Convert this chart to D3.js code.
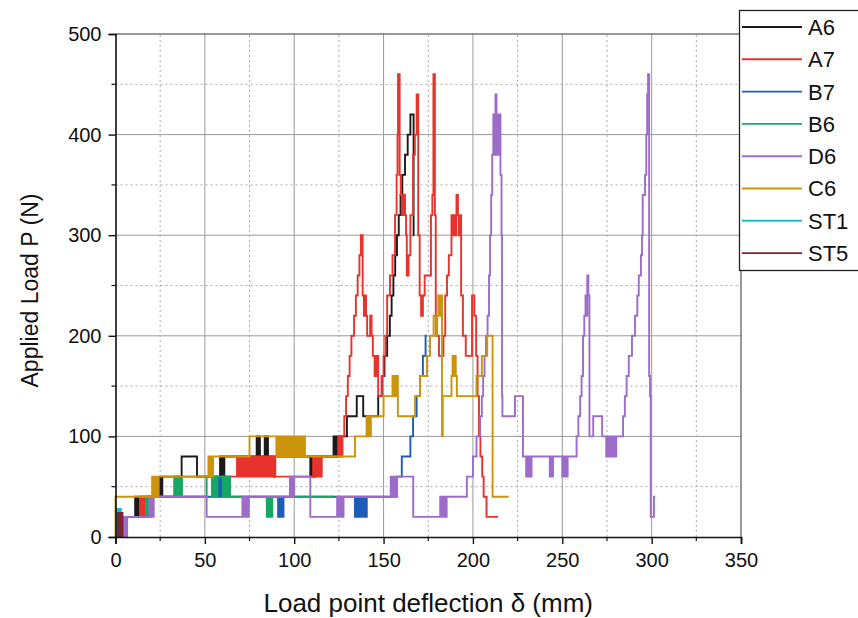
<!DOCTYPE html>
<html><head><meta charset="utf-8">
<script src="https://cdn.jsdelivr.net/npm/d3@7"></script>
<style>
body{margin:0;background:#fff}
svg{display:block}
text{font-family:Arial,"Liberation Sans",sans-serif;fill:#111}
</style>
</head><body>
<svg id="chart" width="858" height="618"></svg>
<script>
// ---------- data ----------
const seriesNames  = ["A6","A7","B7","B6","D6","C6","ST1","ST5"];
const seriesColors = ["#1a1a1a","#e8322c","#1f5cb8","#16a862","#9d6cc9","#cc930c","#1cbfc2","#7a2434"];
const xTickValues = [0,50,100,150,200,250,300,350];
const yTickValues = [0,100,200,300,400,500];
const xLabel = "Load point deflection δ (mm)";
const yLabel = "Applied Load P (N)";

// [deflection mm, load N] step data
const A6 = [
[0,0],[0.6,20],[11,40],[11.6,20],[12.2,40],[12.8,20],[13.2,40],
[25,60],[25.6,40],[26.2,60],
[37,80],[45.6,60],
[58.5,80],[59.1,60],[59.7,80],[60.3,60],[60.9,80],
[79,100],[79.6,80],[80.2,100],[80.8,80],
[83.5,100],[84.1,80],[84.7,100],[85.3,80],
[88.6,60],[89.2,80],
[109,60],[109.6,80],[110.2,60],[110.8,80],[111.4,60],[112,80],
[122,100],[122.6,80],[123.2,100],[123.8,80],[124.4,100],
[129.5,120],[135,140],[138.6,120],[147,140],[149,160],[150.5,180],[152,200],[153.5,220],[154.5,240],[155.5,260],[156.5,280],[157.5,300],[158.5,320],[159.5,340],[160.5,360],[162,380],[163.5,400],[165,420],[166.8,300],[167.2,300]
];
const A7 = [
[0,0],[0.8,20],[13.7,40],[14.3,20],[14.9,40],[15.5,20],[16.1,40],
[33,60],[33.6,40],[34.2,60],[34.8,40],[35.4,60],
[68,80],[68.8,60],[69.6,80],[70.4,60],[71.2,80],[72,60],[72.8,80],[73.6,60],[74.4,80],[75.2,60],[76,80],[76.8,60],[77.6,80],[78.4,60],
[79.2,80],[80,60],[80.8,80],[81.6,60],[82.4,80],[83.2,60],[84,80],[84.8,60],[85.6,80],[86.4,60],[87.2,80],[88,60],[88.8,80],[89.4,60],
[110.6,80],[111.4,60],[112.2,80],[113,60],[113.8,80],[114.6,60],[115.4,80],
[124.6,100],[125.2,80],[125.8,100],[126.4,80],[127,100],
[128,120],[129,140],[130,160],[131,180],[132,200],[133.5,220],[134.5,240],[135.5,260],[136.5,280],[137.3,300],[138.3,240],[139,220],[139.6,240],[140.2,220],[140.8,200],[142.5,220],[143.3,200],[144,180],[145,160],[146,180],[147,140],[149,160],[150,180],[151,200],[152,240],[153.6,260],[155,280],[156.4,320],[157.3,360],[157.8,400],[158.1,460],[159,360],[159.6,340],[160.2,320],[161,340],[162,320],[162.6,300],[163,260],[164,280],[165,320],[166.5,380],[167.5,400],[168.5,440],[169.4,300],[170.2,240],[171,220],[172,240],[173,260],[176.5,320],[177.3,340],[177.9,460],[178.7,320],[179.2,200],[181,180],[183.5,200],[184.5,240],[185.5,260],[186.5,280],[188,320],[189,300],[189.6,320],[190.2,300],[190.8,340],[191.6,320],[192.2,300],[192.8,320],[193.4,240],[194.4,200],[196,180],[199.5,240],[200.8,220],[201.8,180],[202.6,140],[203.4,100],[204.2,80],[205.2,60],[206,40],[207.6,20],[214,20]
];
const B7 = [
[0,0],[1,20],[18,40],
[57,60],[57.6,40],[58.2,60],[58.8,40],[59.4,60],[60,40],[60.6,60],[61.2,40],[61.8,60],[62.4,40],[63,60],[64,40],
[91,20],[91.6,40],[92.2,20],[92.8,40],[93.4,20],[94,40],
[134,20],[134.6,40],[135.2,20],[135.8,40],[136.4,20],[137,40],[137.6,20],[138.2,40],[138.8,20],[139.4,40],[140,20],[140.6,40],
[157.5,60],[160.2,80],[165,100],[166.5,120],[168.5,140],[170.4,160],[172,180],[173.5,200],[174.2,200]
];
const B6 = [
[0,0],[1.5,20],[17,40],[17.6,20],[18.2,40],[18.8,20],[19.4,40],
[33,60],[33.6,40],[34.2,60],[34.8,40],[35.4,60],[36,40],[36.6,60],[37.2,40],
[51,60],[54,40],[54.6,60],[55.2,40],[55.8,60],[56.4,40],[57,60],
[60,40],[60.6,60],[61.2,40],[61.8,60],[62.4,40],[63,60],[64,40],
[84.7,20],[85.3,40],[85.9,20],[86.5,40],[87.1,20],[87.7,40],
[122.5,40]
];
const D6 = [
[0,0],[2.5,20],[3,0],[3.5,20],[4,0],[4.5,20],[5,0],[5.5,20],[6,0],[6.5,20],
[19,40],[19.6,20],[20.2,40],[20.8,20],[21.4,40],
[51,20],
[71,40],[71.6,20],[72.2,40],[72.8,20],[73.4,40],[74,20],[74.6,40],
[97.6,60],[98.2,40],[98.8,60],[99.4,40],[100,60],
[109,20],
[124,40],[124.6,20],[125.2,40],[125.8,20],[126.4,40],[127,20],[127.6,40],
[154,60],[154.6,40],[155.2,60],[155.8,40],[156.4,60],[157,40],[157.6,60],
[166.6,20],
[181.7,40],[182.3,20],[182.9,40],[183.5,20],[184.1,40],[184.7,20],[185.3,40],
[196.6,60],[200,80],[202,100],[204,120],[205,140],[205.7,160],[206.5,180],[207.3,200],[208.2,220],[209,260],[209.6,300],[210.2,340],[210.8,380],[211.4,420],[212,380],[212.6,440],[213.2,380],[213.8,420],[214.4,380],[215,420],[215.4,360],[216,300],[216.3,140],[216.5,120],
[223.5,140],[228,80],[229.8,60],[230.4,80],[231,60],[231.6,80],[232.2,60],[232.8,80],
[243,60],[243.6,80],[244.2,60],[244.8,80],
[250,60],[250.6,80],[251.2,60],[251.8,80],[252.4,60],[253,80],
[258,100],[259,120],[260,140],[260.8,160],[261.6,200],[262.3,220],[263,240],[263.6,220],[264,260],[264.6,240],[265.2,100],[267.3,120],[272.3,100],
[274.6,80],[275.2,100],[275.8,80],[276.4,100],[277,80],[277.6,100],[278.4,80],[279,100],[279.6,80],[280.2,100],
[284,120],[285,140],[286,160],[287.2,180],[289,200],[290.7,220],[292,240],[292.8,260],[294,280],[294.6,300],[295,340],[296.3,360],[297,400],[297.5,440],[298,460],[298.6,160],[299.1,140],[299.5,20],[301.3,40],[302,40]
];
const C6 = [
[0,0],[0,40],[20.5,60],[21.1,40],[21.7,60],[22.3,40],[22.9,60],[23.5,40],[24,60],
[52,80],[52.6,60],[53.2,80],[53.8,60],[54.6,80],
[75,100],
[90,80],[91,100],[92,80],[93,100],[94,80],[95,100],[96,80],[97,100],[98,80],[99,100],[100,80],[101,100],[102,80],[103,100],[104,80],[105,100],[106,80],
[134,100],[140.5,120],[141.1,100],[141.7,120],[142.3,100],[142.9,120],
[150,140],[155,160],[155.6,140],[156.2,160],[156.8,140],[157.4,160],[158,120],
[167.6,140],[170.4,160],[174.3,180],[176,200],[178,220],[179.4,200],[180,220],[180.6,240],[181.2,220],[181.8,240],[182.7,100],[183.1,140],
[188,160],[188.6,180],[189.2,160],[189.8,180],[190.4,160],[191,140],
[202,160],[205,180],[208,200],[211,40],[220,40]
];
const ST1 = [[0,0],[0.3,28],[0.9,20],[1.4,28],[2,20],[2.5,28],[3,20],[3.6,0],[3.8,0]];
const ST5 = [[0,0],[1.4,24],[1.9,0],[2.4,24],[2.9,0],[3.4,24],[3.9,0],[4.2,0]];

const seriesData = [A6,A7,B7,B6,D6,C6,ST1,ST5];

// ---------- drawing ----------
const svg = d3.select("#chart");
const x = d3.scaleLinear().domain([0,350]).range([115.5,741]);
const y = d3.scaleLinear().domain([0,500]).range([537,34]);

// grid
const g = svg.append("g");
const xMinor = d3.range(25,350,50), yMinor = d3.range(50,500,100);
g.selectAll(".gxm").data(xTickValues.filter(v=>v>0&&v<350)).join("line")
 .attr("x1",d=>x(d)).attr("x2",d=>x(d)).attr("y1",y(0)).attr("y2",y(500))
 .attr("stroke","#9a9a9a").attr("stroke-width",1);
g.selectAll(".gym").data(yTickValues.filter(v=>v>0&&v<500)).join("line")
 .attr("y1",d=>y(d)).attr("y2",d=>y(d)).attr("x1",x(0)).attr("x2",x(350))
 .attr("stroke","#9a9a9a").attr("stroke-width",1);
g.selectAll(".gxn").data(xMinor).join("line")
 .attr("x1",d=>x(d)).attr("x2",d=>x(d)).attr("y1",y(0)).attr("y2",y(500))
 .attr("stroke","#a8a8a8").attr("stroke-width",1).attr("stroke-dasharray","2,3");
g.selectAll(".gyn").data(yMinor).join("line")
 .attr("y1",d=>y(d)).attr("y2",d=>y(d)).attr("x1",x(0)).attr("x2",x(350))
 .attr("stroke","#a8a8a8").attr("stroke-width",1).attr("stroke-dasharray","2,3");

// frame top/right
svg.append("line").attr("x1",x(0)).attr("x2",x(350)).attr("y1",y(500)).attr("y2",y(500)).attr("stroke","#333");
svg.append("line").attr("x1",x(350)).attr("x2",x(350)).attr("y1",y(500)).attr("y2",y(0)).attr("stroke","#333");

// series
svg.append("clipPath").attr("id","clip").append("rect")
 .attr("x",x(0)-2).attr("y",y(500)).attr("width",x(350)-x(0)+2).attr("height",y(0)-y(500)+1);
const line = d3.line().x(d=>x(d[0])).y(d=>y(d[1])).curve(d3.curveStepAfter);
const sg = svg.append("g").attr("clip-path","url(#clip)");
seriesData.forEach((s,i)=>{
  sg.append("path").attr("d",line(s)).attr("fill","none")
    .attr("stroke",seriesColors[i]).attr("stroke-width",1.9).attr("stroke-linejoin","miter");
});

// axes
const xAxis = d3.axisBottom(x).tickValues(xTickValues).tickSize(7).tickPadding(9).tickFormat(d3.format("d"));
const yAxis = d3.axisLeft(y).tickValues(yTickValues).tickSize(7).tickPadding(7).tickFormat(d3.format("d"));
const xa = svg.append("g").attr("transform",`translate(0,${y(0)})`).call(xAxis);
const ya = svg.append("g").attr("transform",`translate(${x(0)},0)`).call(yAxis);
[xa,ya].forEach(a=>{
  a.select(".domain").attr("stroke","#111").attr("stroke-width",1.6);
  a.selectAll(".tick line").attr("stroke","#111").attr("stroke-width",1.4);
  a.selectAll(".tick text").attr("font-size",20).attr("fill","#111").attr("font-family","Arial, 'Liberation Sans', sans-serif");
});
// minor ticks
svg.append("g").selectAll("line").data(xMinor).join("line")
 .attr("x1",d=>x(d)).attr("x2",d=>x(d)).attr("y1",y(0)).attr("y2",y(0)+4).attr("stroke","#111").attr("stroke-width",1.2);
svg.append("g").selectAll("line").data(yMinor).join("line")
 .attr("y1",d=>y(d)).attr("y2",d=>y(d)).attr("x1",x(0)).attr("x2",x(0)-4).attr("stroke","#111").attr("stroke-width",1.2);

// axis titles
svg.append("text").attr("x",(x(0)+x(350))/2).attr("y",612).attr("text-anchor","middle")
 .attr("font-size",26).text(xLabel);
svg.append("text").attr("transform",`translate(38,${y(245)}) rotate(-90)`).attr("text-anchor","middle")
 .attr("font-size",23).text(yLabel);

// legend
const lg = svg.append("g");
lg.append("rect").attr("x",739.5).attr("y",10.5).attr("width",140).attr("height",260)
  .attr("fill","#fff").attr("stroke","#222").attr("stroke-width",1.3);
seriesNames.forEach((n,i)=>{
  const yy = 27 + i*32.3;
  lg.append("line").attr("x1",742).attr("x2",802).attr("y1",yy).attr("y2",yy)
    .attr("stroke",seriesColors[i]).attr("stroke-width",1.9);
  lg.append("text").attr("x",808).attr("y",yy).attr("dy","0.36em").attr("font-size",22).text(n);
});
</script>
</body></html>
